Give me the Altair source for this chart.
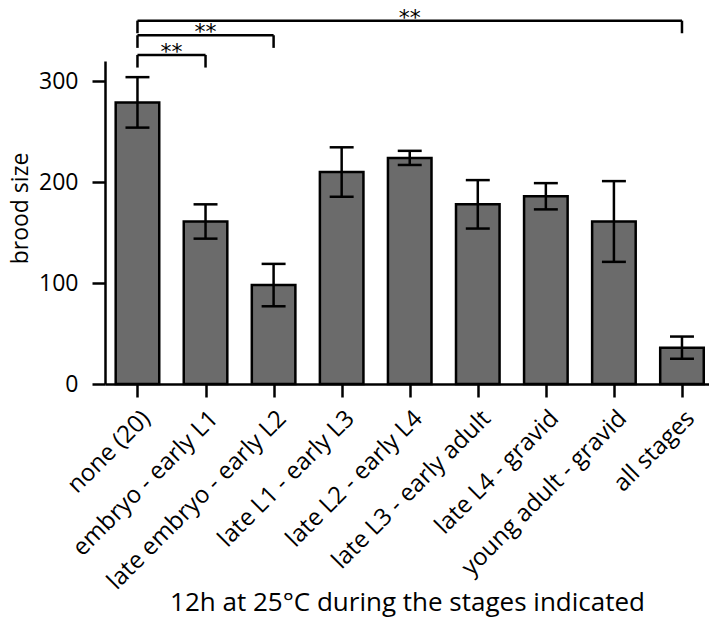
import json
import altair as alt
import pandas as pd

categories = ["none (20)", "embryo - early L1", "late embryo - early L2",
              "late L1 - early L3", "late L2 - early L4", "late L3 - early adult",
              "late L4 - gravid", "young adult - gravid", "all stages"]
means = [279, 161, 98, 210, 224, 178, 186, 161, 36]
errors = [25, 17, 21, 24.5, 7, 24, 13, 40, 11]

cmp_left = [0, 0, 0]
cmp_right = [1, 2, 8]
cmp_level = [326, 345.5, 360]
cmp_label = ["**", "**", "**"]

FONT = "Open Sans"
HALF = 0.32
CAP = 0.176
DROP = 12.5

bars = pd.DataFrame({"idx": list(range(len(categories))), "cat": categories,
                     "mean": means, "err": errors})
bars["x1"] = bars["idx"] - HALF
bars["x2"] = bars["idx"] + HALF
bars["lo"] = bars["mean"] - bars["err"]
bars["hi"] = bars["mean"] + bars["err"]
bars["c1"] = bars["idx"] - CAP
bars["c2"] = bars["idx"] + CAP

cmp = pd.DataFrame({"a": cmp_left, "b": cmp_right, "level": cmp_level, "label": cmp_label})
cmp["low"] = cmp["level"] - DROP
cmp["mid"] = (cmp["a"] + cmp["b"]) / 2

label_expr = json.dumps(categories) + "[datum.value]"

xscale = alt.Scale(domain=[-0.477, 8.397], nice=False, zero=False)
yscale = alt.Scale(domain=[0, 320], nice=False)

xaxis = alt.Axis(values=list(range(len(categories))), labelExpr=label_expr,
                 labelAngle=-45, labelAlign="right", labelBaseline="top",
                 labelPadding=9, tickSize=13, tickWidth=2.5, domainWidth=2.5,
                 domainColor="black", tickColor="black", grid=False,
                 labelFont=FONT, labelFontSize=24, labelColor="black",
                 labelLimit=0,
                 title="12h at 25°C during the stages indicated",
                 titleFont=FONT, titleFontSize=26, titleFontWeight="normal",
                 titleColor="black", titleY=226, titleBaseline="alphabetic",
                 labelOverlap=False, labelBound=False)
yaxis = alt.Axis(values=[0, 100, 200, 300], tickSize=13, tickWidth=2.5,
                 domainWidth=2.5, domainColor="black", tickColor="black",
                 grid=False, labelFont=FONT, labelFontSize=23, labelColor="black",
                 labelPadding=14, title="brood size", titleFont=FONT,
                 titleFontSize=23, titleFontWeight="normal", titleColor="black",
                 titleAngle=-90, titleX=-78, titleY=147, titleAlign="center",
                 titleBaseline="alphabetic")

base = alt.Chart(bars)

bar_layer = base.mark_bar(color="#6b6b6b", stroke="black", strokeWidth=2.5).encode(
    x=alt.X("x1:Q", scale=xscale, axis=xaxis),
    x2="x2:Q",
    y=alt.Y("mean:Q", scale=yscale, axis=yaxis),
    y2=alt.datum(0),
)
err_v = base.mark_rule(color="black", strokeWidth=2.5).encode(
    x="idx:Q", y="lo:Q", y2="hi:Q")
cap_hi = base.mark_rule(color="black", strokeWidth=2.5).encode(
    x="c1:Q", x2="c2:Q", y="hi:Q")
cap_lo = base.mark_rule(color="black", strokeWidth=2.5).encode(
    x="c1:Q", x2="c2:Q", y="lo:Q")

cbase = alt.Chart(cmp)
br_h = cbase.mark_rule(color="black", strokeWidth=2.5).encode(
    x="a:Q", x2="b:Q", y="level:Q")
br_l = cbase.mark_rule(color="black", strokeWidth=2.5).encode(
    x="a:Q", y="level:Q", y2="low:Q")
br_r = cbase.mark_rule(color="black", strokeWidth=2.5).encode(
    x="b:Q", y="level:Q", y2="low:Q")
stars = cbase.mark_text(font="DejaVu Sans", fontSize=22, color="black",
                        baseline="middle", dy=-3).encode(
    x="mid:Q", y="level:Q", text="label:N")

chart = alt.layer(bar_layer, err_v, cap_hi, cap_lo, br_h, br_l, br_r, stars).properties(
    width=604, height=323,
    autosize=alt.AutoSizeParams(type="none"),
    padding={"left": 97, "top": 53, "right": 0, "bottom": 233},
).configure(background="white", view=alt.ViewConfig(stroke=None))

chart.save("out.html", embed_options={"renderer": "svg", "actions": False})
